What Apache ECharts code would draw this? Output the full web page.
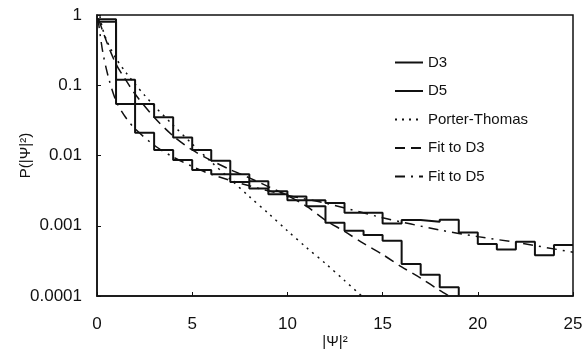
<!DOCTYPE html>
<html><head><meta charset="utf-8">
<script src="https://cdn.jsdelivr.net/npm/echarts@6/dist/echarts.min.js"></script>
<style>html,body{margin:0;padding:0;background:#fff}#c{width:584px;height:349px}</style>
</head><body><div id="c"></div>
<script>
// Histogram bin values (bin width 1, starting at |Psi|^2 = 0)
const d3Bins = [0.80, 0.12, 0.054, 0.035, 0.018, 0.012, 0.0084, 0.0054, 0.0043, 0.0031, 0.0026, 0.0019,
                0.0011, 0.00085, 0.00074, 0.00061, 0.000286, 0.0002, 0.000133];
const d5Bins = [0.87, 0.054, 0.021, 0.012, 0.0086, 0.0062, 0.0054, 0.0042, 0.0034, 0.0028, 0.0023, 0.0023,
                0.0021, 0.00153, 0.00153, 0.00108, 0.00121, 0.00114, 0.00122, 0.0008, 0.00055, 0.00046,
                0.00059, 0.00038, 0.00053];
// Curves
const ptX = [0.15, 0.3, 0.5, 0.75, 1, 1.5, 2, 2.5, 3, 4, 5, 6, 7, 8, 9, 10, 11, 12, 13, 13.9];
const ptY = [0.96, 0.63, 0.44, 0.32, 0.24, 0.154, 0.104, 0.072, 0.051, 0.027, 0.0146, 0.0081, 0.0046,
             0.0026, 0.0015, 0.00085, 0.00049, 0.00029, 0.000166, 0.0001];
const fitD3X = [0.1, 0.5, 1, 1.5, 2, 3, 4, 5, 6, 7, 8, 9, 10, 11, 12, 13, 14, 15, 16, 17, 18, 18.5];
const fitD3Y = [0.85, 0.42, 0.2, 0.12, 0.075, 0.035, 0.019, 0.012, 0.0085, 0.0063, 0.0048, 0.0036, 0.0027,
                0.0019, 0.0012, 0.00083, 0.00056, 0.00039, 0.00026, 0.00018, 0.00012, 0.0001];
const fitD5X = [0.05, 0.3, 0.6, 1, 1.5, 2, 3, 4, 5, 6, 8, 10, 12, 15, 18, 20, 22, 25];
const fitD5Y = [0.9, 0.3, 0.13, 0.06, 0.035, 0.024, 0.014, 0.0095, 0.007, 0.0054, 0.0037, 0.0027, 0.0021,
                0.0013, 0.00087, 0.0007, 0.00058, 0.00042];
const xTicks = [0, 5, 10, 15, 20, 25];
const yTickLabels = ['0.0001', '0.001', '0.01', '0.1', '1'];
const yMin = 0.0001, yMax = 1;

function stepData(bins, dropAtEnd) {
  const d = bins.map((v, i) => [i, v]);
  d.push([bins.length, bins[bins.length - 1]]);
  if (dropAtEnd) d.push([bins.length, yMin]);
  return d;
}
const zip = (xs, ys) => xs.map((x, i) => [x, ys[i]]);

const FONT = 'Liberation Sans';
const black = '#111';
const chart = echarts.init(document.getElementById('c'), null, {renderer: 'canvas'});
chart.setOption({
  animation: false,
  backgroundColor: '#fff',
  textStyle: {fontFamily: FONT, color: black},
  grid: {left: 97, right: 11, top: 15, bottom: 53, outerBoundsMode: 'none', containLabel: false,
         show: true, borderColor: black, borderWidth: 1.5, backgroundColor: 'transparent'},
  legend: {
    orient: 'vertical', left: 389, top: 50,
    itemWidth: 28, itemHeight: 14, itemGap: 13.5,
    itemStyle: {color: 'transparent', borderColor: 'transparent', borderWidth: 0, opacity: 0},
    textStyle: {fontSize: 15, color: black, fontFamily: FONT},
    data: ['D3', 'D5', 'Porter-Thomas', 'Fit to D3', 'Fit to D5']
  },
  xAxis: {
    type: 'value', min: xTicks[0], max: xTicks[xTicks.length - 1], interval: 5,
    axisLine: {lineStyle: {color: black, width: 1.5}},
    axisTick: {inside: true, length: 4, lineStyle: {color: black}},
    splitLine: {show: false},
    axisLabel: {fontSize: 17, color: black, margin: 20, fontFamily: FONT},
    name: '|\u03A8|\u00B2', nameLocation: 'middle', nameGap: 38, nameMoveOverlap: false,
    nameTextStyle: {fontSize: 15, color: black, fontFamily: FONT}
  },
  yAxis: {
    type: 'log', logBase: 10, min: yMin, max: yMax,
    axisLine: {lineStyle: {color: black, width: 1.5}},
    axisTick: {inside: true, length: 4, lineStyle: {color: black}},
    splitLine: {show: false}, minorTick: {show: false},
    axisLabel: {fontSize: 17, color: black, margin: 15, fontFamily: FONT,
      formatter: v => yTickLabels[Math.round(Math.log10(v) - Math.log10(yMin))]},
    name: 'P(|\u03A8|\u00B2)', nameLocation: 'middle', nameGap: 64, nameRotate: 90, nameMoveOverlap: false,
    nameTextStyle: {fontSize: 15, color: black, fontFamily: FONT}
  },
  series: [
    {name: 'D3', type: 'line', step: 'end', symbol: 'none', data: stepData(d3Bins, true),
     lineStyle: {color: black, width: 2}, itemStyle: {color: black}},
    {name: 'D5', type: 'line', step: 'end', symbol: 'none', data: stepData(d5Bins, false),
     lineStyle: {color: black, width: 2}, itemStyle: {color: black}},
    {name: 'Porter-Thomas', type: 'line', symbol: 'none', data: zip(ptX, ptY), smooth: 0.3,
     lineStyle: {color: black, width: 1.5, type: [2, 5]}, itemStyle: {color: black}},
    {name: 'Fit to D3', type: 'line', symbol: 'none', data: zip(fitD3X, fitD3Y), smooth: 0.3,
     lineStyle: {color: black, width: 1.5, type: [10, 6]}, itemStyle: {color: black}},
    {name: 'Fit to D5', type: 'line', symbol: 'none', data: zip(fitD5X, fitD5Y), smooth: 0.3,
     lineStyle: {color: black, width: 1.5, type: [10, 6, 2, 6]}, itemStyle: {color: black}}
  ]
});
</script></body></html>
